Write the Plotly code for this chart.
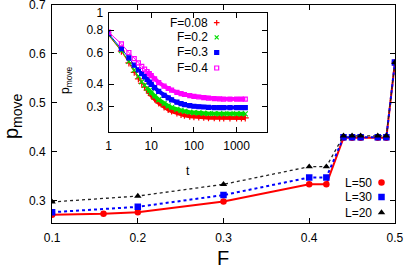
import plotly.graph_objects as go

# ---------------- main data ----------------
F_L50 = [0.1, 0.16, 0.2, 0.3, 0.4, 0.42, 0.44, 0.45, 0.46, 0.48, 0.49, 0.5]
P_L50 = [0.271, 0.273, 0.276, 0.298, 0.333, 0.333, 0.428, 0.428, 0.428, 0.428, 0.428, 0.582]
F_L30 = [0.1, 0.2, 0.3, 0.4, 0.42, 0.44, 0.45, 0.46, 0.48, 0.49, 0.5]
P_L30 = [0.276, 0.287, 0.311, 0.347, 0.347, 0.429, 0.429, 0.429, 0.429, 0.429, 0.582]
F_L20 = [0.1, 0.2, 0.3, 0.4, 0.42, 0.44, 0.45, 0.46, 0.48, 0.49, 0.5]
P_L20 = [0.297, 0.309, 0.333, 0.369, 0.369, 0.432, 0.432, 0.432, 0.432, 0.432, 0.582]

# ---------------- inset data ----------------
T = [1, 2, 3, 4, 5, 6, 7, 8, 9, 10, 12, 15, 20, 25, 30, 40, 50, 60, 80, 100,
     130, 170, 220, 300, 400, 500, 700, 1000, 1300, 1600]
P_F008 = [0.750, 0.610, 0.525, 0.465, 0.428, 0.404, 0.385, 0.370, 0.357, 0.346,
          0.330, 0.314, 0.298, 0.289, 0.283, 0.276, 0.271, 0.268, 0.265, 0.263,
          0.262, 0.261, 0.260, 0.260, 0.259, 0.259, 0.259, 0.259, 0.259, 0.259]
P_F02 = [0.755, 0.615, 0.535, 0.478, 0.443, 0.412, 0.394, 0.380, 0.368, 0.358,
         0.343, 0.327, 0.311, 0.302, 0.296, 0.289, 0.285, 0.282, 0.279, 0.277,
         0.276, 0.275, 0.274, 0.274, 0.273, 0.273, 0.273, 0.273, 0.273, 0.273]
P_F03 = [0.765, 0.630, 0.560, 0.510, 0.480, 0.458, 0.440, 0.425, 0.410, 0.399,
         0.382, 0.364, 0.346, 0.335, 0.327, 0.317, 0.311, 0.307, 0.303, 0.301,
         0.299, 0.298, 0.297, 0.296, 0.296, 0.296, 0.296, 0.296, 0.296, 0.296]
P_F04 = [0.780, 0.670, 0.600, 0.555, 0.525, 0.502, 0.485, 0.470, 0.457, 0.446,
         0.428, 0.408, 0.390, 0.378, 0.370, 0.360, 0.354, 0.350, 0.345, 0.342,
         0.339, 0.336, 0.334, 0.332, 0.331, 0.330, 0.330, 0.330, 0.330, 0.330]

MAIN_XTICKS = [0.1, 0.2, 0.3, 0.4, 0.5]
MAIN_YTICKS = [0.3, 0.4, 0.5, 0.6, 0.7]
INSET_XTICKS = [1, 10, 100, 1000]
INSET_YTICKS = [0.3, 0.4, 0.6, 0.8, 1]

W, H = 409, 273
FONT = "Liberation Sans Narrow, Liberation Sans, Arial, sans-serif"

fig = go.Figure()

# main series
fig.add_trace(go.Scatter(x=F_L50, y=P_L50, mode="lines+markers",
                         line=dict(color="#ff0000", width=2),
                         marker=dict(symbol="circle", size=6.5, color="#ff0000"),
                         xaxis="x", yaxis="y", showlegend=False))
fig.add_trace(go.Scatter(x=F_L30, y=P_L30, mode="lines+markers",
                         line=dict(color="#0000ff", width=2, dash="dot"),
                         marker=dict(symbol="square", size=6.5, color="#0000ff"),
                         xaxis="x", yaxis="y", showlegend=False))
fig.add_trace(go.Scatter(x=F_L20, y=P_L20, mode="lines+markers",
                         line=dict(color="#222222", width=1.3, dash="dot"),
                         marker=dict(symbol="triangle-up", size=6.5, color="#000000"),
                         xaxis="x", yaxis="y", showlegend=False))

# inset series: dense sampled points merge into a thick band at later times
inset_specs = [
    (P_F008, "#ff0000", "cross-thin", 5),
    (P_F02, "#00dd00", "x-thin", 5),
    (P_F03, "#0000ff", "square", 4),
    (P_F04, "#ff00ff", "square-open", 4),
]
BAND_START = 7
for vals, col, sym, sz in inset_specs:
    fig.add_trace(go.Scatter(x=T[BAND_START:], y=vals[BAND_START:], mode="lines",
                             line=dict(color=col, width=4),
                             xaxis="x2", yaxis="y2", showlegend=False))
    fig.add_trace(go.Scatter(x=T, y=vals, mode="lines+markers",
                             line=dict(color=col, width=1),
                             marker=dict(symbol=sym, size=sz, color=col,
                                         line=dict(color=col, width=1.2)),
                             xaxis="x2", yaxis="y2", showlegend=False))


def px(x):
    return x / W


def py(y):
    return 1 - y / H


main_keys = [("L=50", "#ff0000", "circle", 182.5),
             ("L=30", "#0000ff", "square", 197),
             ("L=20", "#000000", "triangle-up", 212.5)]
inset_keys = [("F=0.08", "#ff0000", "cross-thin", 22.7),
              ("F=0.2", "#00dd00", "x-thin", 37.3),
              ("F=0.3", "#0000ff", "square", 52.5),
              ("F=0.4", "#ff00ff", "square-open", 68)]

LEG_FONT = dict(size=12, family=FONT, color="black")
annotations = []
for name, col, sym, yy in main_keys:
    fig.add_trace(go.Scatter(x=[381.5], y=[yy], mode="markers",
                             marker=dict(symbol=sym, size=6.5, color=col),
                             xaxis="x3", yaxis="y3", showlegend=False))
    annotations.append(dict(text=name, x=px(374), y=py(yy), xref="paper", yref="paper",
                            xanchor="right", yanchor="middle", showarrow=False,
                            font=LEG_FONT))
for name, col, sym, yy in inset_keys:
    fig.add_trace(go.Scatter(x=[216.7], y=[yy], mode="markers",
                             marker=dict(symbol=sym, size=4, color=col,
                                         line=dict(color=col, width=1.2)),
                             xaxis="x3", yaxis="y3", showlegend=False))
    annotations.append(dict(text=name, x=px(210), y=py(yy), xref="paper", yref="paper",
                            xanchor="right", yanchor="middle", showarrow=False,
                            font=LEG_FONT))

# axis titles
annotations.append(dict(text="F", x=px(223), y=py(258), xref="paper", yref="paper",
                        xanchor="center", yanchor="middle", showarrow=False,
                        font=dict(size=20, family=FONT, color="black")))
annotations.append(dict(text="p<sub>move</sub>", x=px(12), y=py(116), xref="paper", yref="paper",
                        xanchor="center", yanchor="middle", showarrow=False, textangle=-90,
                        font=dict(size=20, family=FONT, color="black")))
annotations.append(dict(text="t", x=px(188), y=py(171), xref="paper", yref="paper",
                        xanchor="center", yanchor="middle", showarrow=False,
                        font=dict(size=12, family=FONT, color="black")))
annotations.append(dict(text="p<sub>move</sub>", x=px(66), y=py(80), xref="paper", yref="paper",
                        xanchor="center", yanchor="middle", showarrow=False, textangle=-90,
                        font=dict(size=12, family=FONT, color="black")))

tickfont = dict(size=12, family=FONT, color="black")
axis_common = dict(showline=True, linecolor="black", linewidth=1, mirror="ticks",
                   ticks="inside", ticklen=5, tickcolor="black", showgrid=False,
                   zeroline=False, tickfont=tickfont, automargin=False,
                   ticklabeloverflow="allow")

fig.update_layout(
    width=W, height=H,
    margin=dict(l=0, r=0, t=0, b=0, autoexpand=False),
    paper_bgcolor="white", plot_bgcolor="rgba(0,0,0,0)",
    showlegend=False,
    annotations=annotations,
    xaxis=dict(domain=[px(52), px(395)], range=[0.0999, 0.5001], tickvals=MAIN_XTICKS,
               ticktext=[str(v) for v in MAIN_XTICKS], anchor="y",
               ticklabelstandoff=4, **axis_common),
    yaxis=dict(domain=[py(223), py(4.5)], range=[0.254, 0.7003], tickvals=MAIN_YTICKS,
               ticktext=[str(v) for v in MAIN_YTICKS], anchor="x",
               ticklabelstandoff=3, **axis_common),
    xaxis2=dict(domain=[px(108.5), px(267.3)], type="log", range=[-0.001, 3.72],
                tickvals=INSET_XTICKS, ticktext=[str(v) for v in INSET_XTICKS],
                anchor="y2", ticklabelstandoff=3, **axis_common),
    yaxis2=dict(domain=[py(132), py(12.5)], type="log", range=[-0.665, 0.001],
                tickvals=INSET_YTICKS, ticktext=[str(v) for v in INSET_YTICKS],
                anchor="x2", ticklabelstandoff=2, **axis_common),
    xaxis3=dict(domain=[0, 1], range=[0, W], visible=False, anchor="y3"),
    yaxis3=dict(domain=[0, 1], range=[H, 0], visible=False, anchor="x3"),
)

fig.write_html("out.html", config={"displayModeBar": False},
               post_script="document.body.style.margin='0';document.body.style.padding='0';document.body.style.overflow='hidden';")
